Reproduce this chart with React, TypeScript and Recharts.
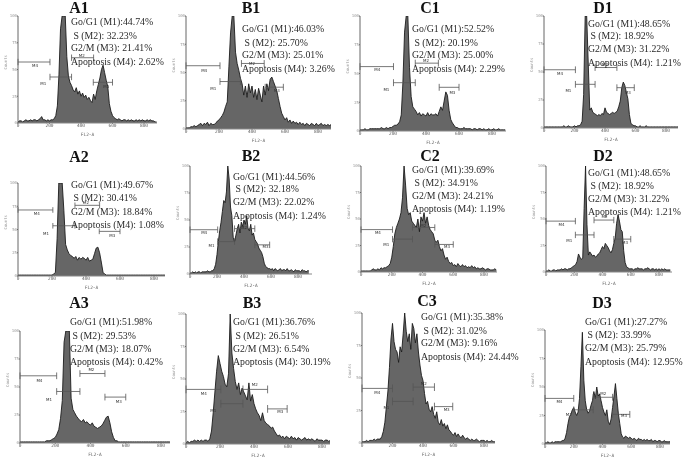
import { Area, AreaChart, ReferenceDot, ReferenceLine, XAxis, YAxis } from "recharts";

// FL2-A channels shared by all twelve histograms
const channels = [
  0, 10, 20, 30, 40, 50, 60, 70, 80, 90,
  100, 110, 120, 130, 140, 150, 160, 170, 180, 190,
  200, 210, 220, 230, 240, 250, 260, 270, 280, 290,
  300, 310, 320, 330, 340, 350, 360, 370, 380, 390,
  400, 410, 420, 430, 440, 450, 460, 470, 480, 490,
  500, 510, 520, 530, 540, 550, 560, 570, 580, 590,
  600, 610, 620, 630, 640, 650, 660, 670, 680, 690,
  700, 710, 720, 730, 740, 750, 760, 770, 780, 790,
  800, 810, 820, 830, 840, 850, 860, 870, 880,
];

const xTicks = [0, 200, 400, 600, 800];
const yTicks = [0, 25, 50, 75, 100];

// counts, as percent of the plot height
const a1Counts = [
  1, 2, 2, 1, 2, 3, 2, 2, 3, 2,
  3, 3, 2, 3, 4, 6, 3, 3, 2, 3,
  2, 3, 3, 4, 7, 16, 45, 88, 100, 100,
  100, 62, 44, 38, 35, 31, 29, 33, 27, 30,
  25, 28, 24, 26, 22, 24, 21, 19, 27, 22,
  30, 36, 42, 50, 54, 47, 40, 34, 18, 11,
  7, 5, 4, 3, 4, 3, 2, 3, 3, 2,
  3, 2, 3, 2, 2, 3, 2, 3, 2, 3,
  2, 2, 3, 2, 3, 2, 2, 1, 1,
];
const b1Counts = [
  1, 1, 1, 2, 2, 3, 2, 3, 4, 5,
  3, 5, 4, 6, 3, 5, 4, 4, 5, 7,
  8, 10, 12, 15, 20, 24, 55, 85, 100, 100,
  68, 58, 52, 45, 40, 30, 38, 28, 40, 32,
  38, 28, 35, 26, 36, 30, 24, 38, 30, 40,
  34, 44, 46, 42, 38, 34, 27, 20, 14, 11,
  8, 10, 6, 8, 5, 7, 5, 6, 4, 6,
  4, 5, 3, 5, 4, 3, 5, 4, 3, 5,
  3, 4, 5, 3, 4, 3, 4, 3, 4,
];
const c1Counts = [
  1, 1, 1, 2, 1, 1, 2, 2, 2, 2,
  2, 2, 2, 3, 2, 2, 3, 2, 3, 3,
  4, 5, 5, 6, 8, 14, 42, 86, 100, 100,
  55, 30, 21, 19, 17, 14, 16, 13, 15, 14,
  13, 16, 13, 15, 14, 14, 15, 13, 17, 21,
  18, 26, 34, 31, 18, 10, 7, 5, 3, 3,
  2, 2, 2, 3, 2, 2, 2, 2, 1, 2,
  2, 1, 2, 2, 1, 2, 1, 1, 2, 1,
  1, 2, 1, 1, 2, 1, 1, 1, 1,
];
const d1Counts = [
  1, 1, 1, 1, 1, 1, 1, 1, 1, 1,
  1, 1, 1, 2, 1, 1, 2, 1, 1, 1,
  2, 1, 2, 2, 3, 6, 30, 100, 100, 58,
  16, 18, 14, 13, 12, 11, 12, 11, 13, 12,
  18, 14, 13, 12, 13, 14, 13, 14, 15, 19,
  24, 36, 41, 38, 32, 26, 12, 4, 3, 2,
  2, 1, 1, 2, 1, 1, 1, 2, 1, 1,
  1, 1, 1, 1, 1, 1, 1, 1, 1, 1,
  1, 1, 1, 1, 1, 1, 1, 1, 1,
];
const a2Counts = [
  1, 1, 1, 1, 1, 1, 1, 1, 1, 1,
  1, 1, 1, 1, 1, 1, 1, 1, 1, 1,
  1, 2, 4, 40, 100, 100, 100, 70, 34, 28,
  24, 22, 21, 19, 21, 17, 20, 18, 20, 19,
  17, 20, 16, 17, 18, 24, 30, 31, 25, 15,
  4, 2, 1, 1, 1, 1, 1, 1, 1, 1,
  1, 1, 1, 1, 1, 1, 1, 1, 1, 1,
  1, 1, 1, 1, 1, 1, 1, 1, 1, 1,
  1, 1, 1, 1, 1, 1, 1, 1, 1,
];
const b2Counts = [
  1, 1, 2, 1, 2, 1, 2, 2, 1, 2,
  2, 2, 2, 3, 2, 2, 3, 3, 5, 9,
  18, 30, 40, 48, 58, 68, 66, 76, 100, 88,
  62, 54, 34, 30, 36, 42, 46, 38, 48, 44,
  50, 46, 54, 42, 40, 46, 36, 38, 32, 30,
  28, 24, 22, 20, 16, 10, 7, 6, 5, 5,
  4, 5, 3, 5, 4, 3, 4, 5, 3, 4,
  4, 3, 5, 3, 3, 4, 3, 2, 4, 3,
  3, 3, 2, 4, 3, 3, 2, 3, 3,
];
const c2Counts = [
  1, 1, 1, 1, 1, 1, 1, 2, 3, 2,
  2, 3, 2, 4, 3, 4, 4, 5, 6, 8,
  14, 24, 36, 42, 46, 50, 56, 70, 100, 82,
  60, 54, 56, 48, 46, 44, 42, 50, 38, 52,
  48, 56, 46, 52, 44, 40, 38, 36, 30, 28,
  30, 24, 20, 22, 16, 12, 14, 10, 8, 9,
  6, 7, 5, 8, 6, 5, 7, 5, 6, 4,
  5, 4, 6, 4, 5, 3, 4, 3, 3, 4,
  3, 2, 3, 3, 2, 2, 2, 3, 2,
];
const d2Counts = [
  1, 1, 2, 1, 1, 2, 2, 1, 2, 2,
  2, 3, 2, 3, 3, 2, 3, 3, 4, 5,
  6, 7, 10, 17, 14, 12, 13, 60, 100, 45,
  16, 19, 17, 15, 16, 14, 15, 17, 18, 21,
  24, 22, 27, 25, 23, 20, 18, 21, 27, 32,
  46, 54, 48, 40, 38, 20, 9, 5, 4, 3,
  3, 3, 2, 3, 3, 4, 3, 3, 3, 2,
  3, 3, 4, 3, 2, 3, 3, 2, 3, 2,
  3, 2, 3, 2, 3, 2, 2, 2, 2,
];
const a3Counts = [
  1, 1, 1, 1, 1, 1, 1, 1, 1, 1,
  1, 1, 1, 1, 1, 2, 2, 2, 3, 4,
  5, 8, 12, 22, 38, 90, 100, 100, 100, 40,
  30, 27, 24, 22, 20, 19, 21, 18, 19, 17,
  16, 18, 15, 14, 13, 14, 15, 17, 20, 23,
  24, 18, 10, 5, 2, 2, 1, 1, 1, 1,
  1, 1, 1, 1, 1, 1, 1, 1, 1, 1,
  1, 1, 1, 1, 1, 1, 1, 1, 1, 1,
  1, 1, 1, 1, 1, 1, 1, 1, 1,
];
const b3Counts = [
  1, 2, 1, 2, 2, 3, 2, 3, 2, 3,
  2, 3, 3, 2, 4, 10, 24, 40, 56, 68,
  62, 56, 52, 46, 44, 54, 100, 70, 58, 48,
  42, 47, 38, 43, 40, 37, 34, 47, 33, 38,
  31, 27, 24, 22, 18, 24, 18, 16, 15, 14,
  12, 13, 10, 8, 6, 7, 5, 6, 4, 6,
  5, 4, 6, 4, 5, 3, 5, 4, 3, 4,
  5, 3, 4, 3, 4, 3, 2, 4, 3, 3,
  3, 2, 3, 3, 2, 3, 2, 2, 2,
];
const c3Counts = [
  1, 1, 1, 2, 1, 2, 2, 2, 3, 2,
  3, 3, 3, 5, 9, 16, 28, 40, 58, 80,
  92, 78, 72, 70, 62, 74, 70, 84, 100, 86,
  78, 84, 72, 92, 88, 77, 84, 70, 60, 52,
  48, 38, 30, 32, 26, 24, 28, 22, 19, 24,
  16, 14, 18, 13, 15, 11, 14, 10, 9, 7,
  6, 8, 5, 7, 5, 4, 6, 4, 3, 4,
  3, 2, 3, 2, 2, 3, 2, 1, 2, 2,
  2, 1, 2, 1, 1, 2, 1, 1, 2,
];
const d3Counts = [
  1, 1, 2, 1, 1, 2, 1, 2, 2, 2,
  2, 2, 3, 3, 5, 10, 18, 24, 26, 30,
  32, 28, 25, 28, 40, 68, 98, 56, 38, 30,
  27, 29, 34, 38, 46, 40, 50, 42, 44, 38,
  32, 28, 25, 30, 20, 17, 22, 32, 42, 53,
  40, 27, 18, 9, 6, 5, 7, 6, 5, 6,
  5, 4, 5, 4, 3, 5, 4, 4, 3, 4,
  3, 4, 3, 3, 4, 2, 3, 3, 2, 3,
  3, 2, 2, 3, 2, 2, 2, 2, 2,
];

// gates as [name, from, to, level, label channel, label level]
type Gate = [string, number, number, number, number, number];

const a1Gates: Gate[] = [["M4", 0, 203, 57, 108, 54], ["M1", 203, 340, 43, 160, 37], ["M2", 340, 480, 61, 405, 63], ["M3", 478, 600, 38, 560, 34]];
const b1Gates: Gate[] = [["M4", 0, 206, 56, 110, 52], ["M1", 206, 330, 42, 165, 36], ["M2", 336, 474, 58, 400, 58], ["M3", 480, 590, 37, 550, 34]];
const c1Gates: Gate[] = [["M4", 0, 203, 56, 105, 53], ["M1", 203, 335, 42, 160, 36], ["M2", 335, 475, 59, 400, 61], ["M3", 480, 600, 38, 560, 33]];
const d1Gates: Gate[] = [["M4", 0, 206, 52, 105, 49], ["M1", 206, 335, 39, 160, 33], ["M2", 335, 478, 54, 400, 57], ["M3", 478, 592, 36, 550, 32]];
const a2Gates: Gate[] = [["M4", 0, 205, 71, 110, 67], ["M1", 205, 335, 54, 165, 46], ["M2", 335, 480, 76, 400, 79], ["M3", 478, 600, 48, 555, 43]];
const b2Gates: Gate[] = [["M4", 0, 205, 41, 105, 38], ["M1", 205, 330, 30, 160, 26], ["M2", 330, 480, 42, 400, 43], ["M3", 480, 590, 27, 560, 25]];
const c2Gates: Gate[] = [["M4", 0, 205, 40, 110, 37], ["M1", 205, 335, 31, 165, 26], ["M2", 335, 480, 42, 405, 44], ["M3", 480, 600, 26, 560, 24]];
const d2Gates: Gate[] = [["M4", 0, 208, 48, 110, 45], ["M1", 208, 340, 35, 165, 30], ["M2", 340, 480, 49, 415, 52], ["M3", 480, 600, 31, 560, 28]];
const a3Gates: Gate[] = [["M4", 0, 208, 60, 110, 56], ["M1", 208, 340, 46, 165, 39], ["M2", 340, 482, 62, 405, 66], ["M3", 482, 600, 41, 560, 37]];
const b3Gates: Gate[] = [["M4", 0, 205, 42, 105, 39], ["M1", 205, 335, 31, 160, 26], ["M2", 335, 480, 42, 405, 46], ["M3", 480, 595, 27, 555, 25]];
const c3Gates: Gate[] = [["M4", 0, 200, 42, 100, 39], ["M1", 200, 335, 32, 160, 27], ["M2", 335, 475, 43, 405, 46], ["M3", 475, 595, 28, 555, 26]];
const d3Gates: Gate[] = [["M4", 0, 200, 40, 100, 37], ["M1", 200, 335, 30, 165, 26], ["M2", 335, 470, 41, 405, 44], ["M3", 470, 590, 26, 550, 25]];

const a1Stats = ["44.74", "32.23", "21.41", "2.62"];
const b1Stats = ["46.03", "25.70", "25.01", "3.26"];
const c1Stats = ["52.52", "20.19", "25.00", "2.29"];
const d1Stats = ["48.65", "18.92", "31.22", "1.21"];
const a2Stats = ["49.67", "30.41", "18.84", "1.08"];
const b2Stats = ["44.56", "32.18", "22.02", "1.24"];
const c2Stats = ["39.69", "34.91", "24.21", "1.19"];
const d2Stats = ["48.65", "18.92", "31.22", "1.21"];
const a3Stats = ["51.98", "29.53", "18.07", "0.42"];
const b3Stats = ["36.76", "26.51", "6.54", "30.19"];
const c3Stats = ["35.38", "31.02", "9.16", "24.44"];
const d3Stats = ["27.27", "33.99", "25.79", "12.95"];

// x0/x800: pixel of channel 0 and 800, end: right end of the plot, top/base: plot top and baseline
// tx/ty: title centre, sx: stats left, sy: stats line centres
const panels = [
  { name: "A1", counts: a1Counts, gates: a1Gates, stats: a1Stats, x0: 18, x800: 144, end: 157, top: 16, base: 123, tx: 79, ty: 8, sx: 71, sy: [22, 36, 48, 62] },
  { name: "B1", counts: b1Counts, gates: b1Gates, stats: b1Stats, x0: 186, x800: 318, end: 331, top: 16, base: 129, tx: 251, ty: 8, sx: 242, sy: [29, 43, 55, 69] },
  { name: "C1", counts: c1Counts, gates: c1Gates, stats: c1Stats, x0: 360, x800: 492, end: 506, top: 16, base: 131, tx: 430, ty: 8, sx: 412, sy: [29, 43, 55, 69] },
  { name: "D1", counts: d1Counts, gates: d1Gates, stats: d1Stats, x0: 544, x800: 666, end: 678, top: 16, base: 128, tx: 603, ty: 8, sx: 588, sy: [24, 36, 49, 63] },
  { name: "A2", counts: a2Counts, gates: a2Gates, stats: a2Stats, x0: 18, x800: 154, end: 165, top: 183, base: 276, tx: 79, ty: 157, sx: 71, sy: [185, 198, 212, 225] },
  { name: "B2", counts: b2Counts, gates: b2Gates, stats: b2Stats, x0: 190, x800: 298, end: 312, top: 166, base: 274, tx: 251, ty: 156, sx: 233, sy: [177, 189, 202, 216] },
  { name: "C2", counts: c2Counts, gates: c2Gates, stats: c2Stats, x0: 361, x800: 484, end: 497, top: 166, base: 272, tx: 430, ty: 156, sx: 412, sy: [170, 183, 196, 209] },
  { name: "D2", counts: d2Counts, gates: d2Gates, stats: d2Stats, x0: 546, x800: 659, end: 672, top: 166, base: 272, tx: 603, ty: 156, sx: 588, sy: [173, 186, 199, 212] },
  { name: "A3", counts: a3Counts, gates: a3Gates, stats: a3Stats, x0: 20, x800: 161, end: 170, top: 331, base: 443, tx: 79, ty: 303, sx: 70, sy: [322, 336, 349, 362] },
  { name: "B3", counts: b3Counts, gates: b3Gates, stats: b3Stats, x0: 186, x800: 322, end: 330, top: 314, base: 444, tx: 252, ty: 303, sx: 233, sy: [322, 336, 349, 362] },
  { name: "C3", counts: c3Counts, gates: c3Gates, stats: c3Stats, x0: 362, x800: 484, end: 495, top: 313, base: 443, tx: 427, ty: 301, sx: 421, sy: [317, 331, 343, 357] },
  { name: "D3", counts: d3Counts, gates: d3Gates, stats: d3Stats, x0: 545, x800: 660, end: 670, top: 330, base: 444, tx: 602, ty: 303, sx: 585, sy: [322, 335, 348, 362] },
];

const statNames = ["Go/G1 (M1):", "\u00a0S (M2): ", "G2/M (M3): ", "Apoptosis (M4): "];

const AXIS_W = 16;
const AXIS_H = 13;
const PAD = 4;

function Histogram({ panel }: { panel: (typeof panels)[number] }) {
  const data = channels.map((channel, i) => ({ channel, count: panel.counts[i] }));
  const plotW = panel.end - panel.x0;
  const plotH = panel.base - panel.top;
  const xMax = (plotW / (panel.x800 - panel.x0)) * 800;

  return (
    <div style={{ position: "absolute", left: panel.x0 - AXIS_W, top: panel.top - PAD }}>
      <AreaChart
        width={AXIS_W + plotW + PAD}
        height={PAD + plotH + AXIS_H}
        data={data}
        margin={{ top: PAD, right: PAD, left: 0, bottom: 0 }}
      >
        <XAxis
          dataKey="channel"
          type="number"
          domain={[0, xMax]}
          allowDataOverflow
          ticks={xTicks}
          tickSize={1}
          tickMargin={0}
          height={AXIS_H}
          stroke="#888"
          tick={{ fontSize: 4.5, fill: "#666", fontFamily: "DejaVu Sans Mono" }}
          label={{ value: "FL2-A", position: "insideBottom", offset: 0, fontSize: 4.5, fill: "#666", fontFamily: "DejaVu Sans Mono" }}
        />
        <YAxis
          type="number"
          domain={[0, 100]}
          allowDataOverflow
          ticks={yTicks}
          tickSize={1}
          tickMargin={0}
          width={AXIS_W}
          stroke="#666"
          tick={{ fontSize: 4, fill: "#999", fontFamily: "DejaVu Sans Mono" }}
          label={{ value: "Counts", angle: -90, position: "insideLeft", offset: 4, fontSize: 4, fill: "#999", fontFamily: "DejaVu Sans Mono" }}
        />
        <Area
          type="linear"
          dataKey="count"
          stroke="#1c1c1c"
          strokeWidth={0.9}
          fill="#666"
          fillOpacity={1}
          dot={false}
          isAnimationActive={false}
        />
        {panel.gates.map(([gate, from, to, level, labelX, labelY]) => [
          <ReferenceLine key={gate} segment={[{ x: from, y: level }, { x: to, y: level }]} stroke="#555" strokeWidth={0.8} />,
          <ReferenceLine key={gate + "a"} segment={[{ x: from, y: level - 3 }, { x: from, y: level + 3 }]} stroke="#555" strokeWidth={0.8} />,
          <ReferenceLine key={gate + "b"} segment={[{ x: to, y: level - 3 }, { x: to, y: level + 3 }]} stroke="#555" strokeWidth={0.8} />,
          <ReferenceDot
            key={gate + "c"}
            x={labelX}
            y={labelY}
            r={0}
            stroke="none"
            label={{ value: gate, position: "center", fontSize: 4, fill: "#333", fontFamily: "DejaVu Sans" }}
          />,
        ])}
      </AreaChart>
    </div>
  );
}

function PanelText({ panel }: { panel: (typeof panels)[number] }) {
  const common = { position: "absolute" as const, whiteSpace: "pre" as const, fontFamily: "Liberation Serif", lineHeight: 1 };
  return (
    <>
      <div style={{ ...common, left: panel.tx - 20, width: 40, textAlign: "center", top: panel.ty - 8, fontSize: 16, fontWeight: "bold", color: "#111" }}>
        {panel.name}
      </div>
      {panel.stats.map((value, i) => (
        <div key={i} style={{ ...common, left: panel.sx, top: panel.sy[i] - 5, fontSize: 9.8, color: "#2a2a2a" }}>
          {statNames[i] + value + "%"}
        </div>
      ))}
    </>
  );
}

export default function App() {
  return (
    <div style={{ position: "absolute", left: 0, top: 0, width: 685, height: 458, background: "#fff", overflow: "hidden", filter: "blur(0.35px)" }}>
      {panels.map((panel) => (
        <Histogram key={panel.name} panel={panel} />
      ))}
      {panels.map((panel) => (
        <PanelText key={panel.name} panel={panel} />
      ))}
    </div>
  );
}
